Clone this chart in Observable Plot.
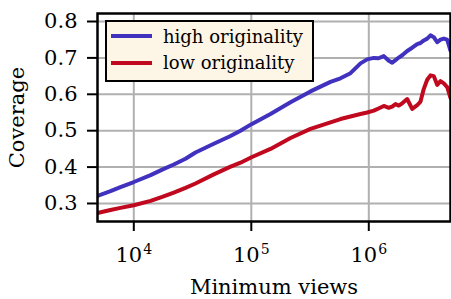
<!DOCTYPE html>
<html>
<head>
<meta charset="utf-8">
<script src="https://cdn.jsdelivr.net/npm/d3@7"></script>
<script src="https://cdn.jsdelivr.net/npm/@observablehq/plot@0.6"></script>
<style>
  html, body { margin: 0; padding: 0; background: #fff; }
  #wrap { position: relative; width: 451px; height: 299px; font-family: "DejaVu Serif", serif; }
  #legend { position: absolute; left: 105px; top: 20px; width: 209px; height: 62px; box-sizing: border-box;
            border: 2.5px solid #000; background: #fdf5e6; }
  #legend .sw { position: absolute; left: 4px; width: 41px; height: 4px; }
  #legend .lb { position: absolute; left: 56px; font-family: "DejaVu Serif", serif; font-size: 18px; line-height: normal; white-space: nowrap; color: #000; }
</style>
</head>
<body>
<div id="wrap"></div>
<script>
const views = [4910, 6340, 7700, 10000, 13900, 17450, 21900, 27540, 33500, 47970, 65240, 80900, 100400, 145700, 215600, 319000, 472100, 574300, 698700, 850100, 969100, 1103000, 1210000, 1342000, 1480000, 1582000, 1688000, 1800000, 1936000, 2122000, 2341000, 2582000, 2754000, 2939000, 3141000, 3350000, 3574000, 3820000, 4076000, 4348000, 4648000, 4959000];
const highOriginality = [0.321, 0.334, 0.345, 0.359, 0.378, 0.393, 0.407, 0.423, 0.440, 0.464, 0.484, 0.500, 0.518, 0.546, 0.578, 0.608, 0.634, 0.644, 0.658, 0.685, 0.696, 0.700, 0.699, 0.705, 0.692, 0.687, 0.694, 0.701, 0.708, 0.719, 0.728, 0.738, 0.741, 0.748, 0.753, 0.762, 0.757, 0.743, 0.750, 0.753, 0.750, 0.720];
const lowOriginality = [0.274, 0.282, 0.288, 0.295, 0.307, 0.318, 0.330, 0.343, 0.355, 0.380, 0.400, 0.412, 0.427, 0.450, 0.480, 0.505, 0.523, 0.532, 0.539, 0.546, 0.550, 0.555, 0.561, 0.568, 0.563, 0.566, 0.573, 0.569, 0.576, 0.587, 0.560, 0.570, 0.580, 0.615, 0.640, 0.652, 0.650, 0.626, 0.636, 0.630, 0.620, 0.590];
const seriesNames = ["high originality", "low originality"];
const seriesColors = ["#4131bf", "#c0081f"];
const xTicks = [1e4, 1e5, 1e6];
const xExponents = ["4", "5", "6"];
const yTicks = [0.3, 0.4, 0.5, 0.6, 0.7, 0.8];

const data = [];
views.forEach((v, i) => {
  data.push({views: v, coverage: highOriginality[i], series: seriesNames[0]});
  data.push({views: v, coverage: lowOriginality[i], series: seriesNames[1]});
});

const chart = Plot.plot({
  width: 451,
  height: 299,
  marginLeft: 97,
  marginRight: 1,
  marginTop: 13,
  marginBottom: 78,
  style: {fontFamily: "DejaVu Serif, serif", background: "transparent", color: "#000"},
  x: {type: "log", domain: [4910, 4959000]},
  y: {domain: [0.2505, 0.822]},
  color: {domain: seriesNames, range: seriesColors},
  marks: [
    Plot.gridX(xTicks, {stroke: "#b0b0b0", strokeOpacity: 1, strokeWidth: 2}),
    Plot.gridY(yTicks, {stroke: "#b0b0b0", strokeOpacity: 1, strokeWidth: 2}),
    Plot.line(data, {x: "views", y: "coverage", z: "series", stroke: "series", strokeWidth: 4, clip: true}),
    Plot.frame({stroke: "#000", strokeWidth: 2.5}),
    Plot.axisY({ticks: yTicks, tickSize: 10, tickPadding: 10, tickFormat: d3.format(".1f"), fontSize: 21, strokeWidth: 2, label: null}),
    Plot.axisX({ticks: xTicks, tickSize: 10, tickFormat: () => "", strokeWidth: 2, label: null}),
    Plot.text(xTicks, {x: d => d, text: () => "10", frameAnchor: "bottom", lineAnchor: "middle", dy: 34, dx: -5, fontSize: 21}),
    Plot.text(xTicks, {x: d => d, text: (d, i) => xExponents[i], frameAnchor: "bottom", lineAnchor: "middle", dy: 28, dx: 14, fontSize: 14}),
    Plot.text(["Minimum views"], {frameAnchor: "bottom", lineAnchor: "middle", textAnchor: "middle", dy: 66, fontSize: 21}),
    Plot.text(["Coverage"], {frameAnchor: "left", lineAnchor: "middle", textAnchor: "middle", rotate: -90, dx: -80, fontSize: 21})
  ]
});

const wrap = document.getElementById("wrap");
wrap.appendChild(chart);

const legend = document.createElement("div");
legend.id = "legend";
const rows = [{sw: 11.8, lb: 3.5}, {sw: 38.5, lb: 30.1}];
seriesNames.forEach((name, i) => {
  const sw = document.createElement("div");
  sw.className = "sw";
  sw.style.top = rows[i].sw + "px";
  sw.style.background = seriesColors[i];
  legend.appendChild(sw);
  const lb = document.createElement("span");
  lb.className = "lb";
  lb.style.top = rows[i].lb + "px";
  lb.textContent = name;
  legend.appendChild(lb);
});
wrap.appendChild(legend);
</script>
</body>
</html>
